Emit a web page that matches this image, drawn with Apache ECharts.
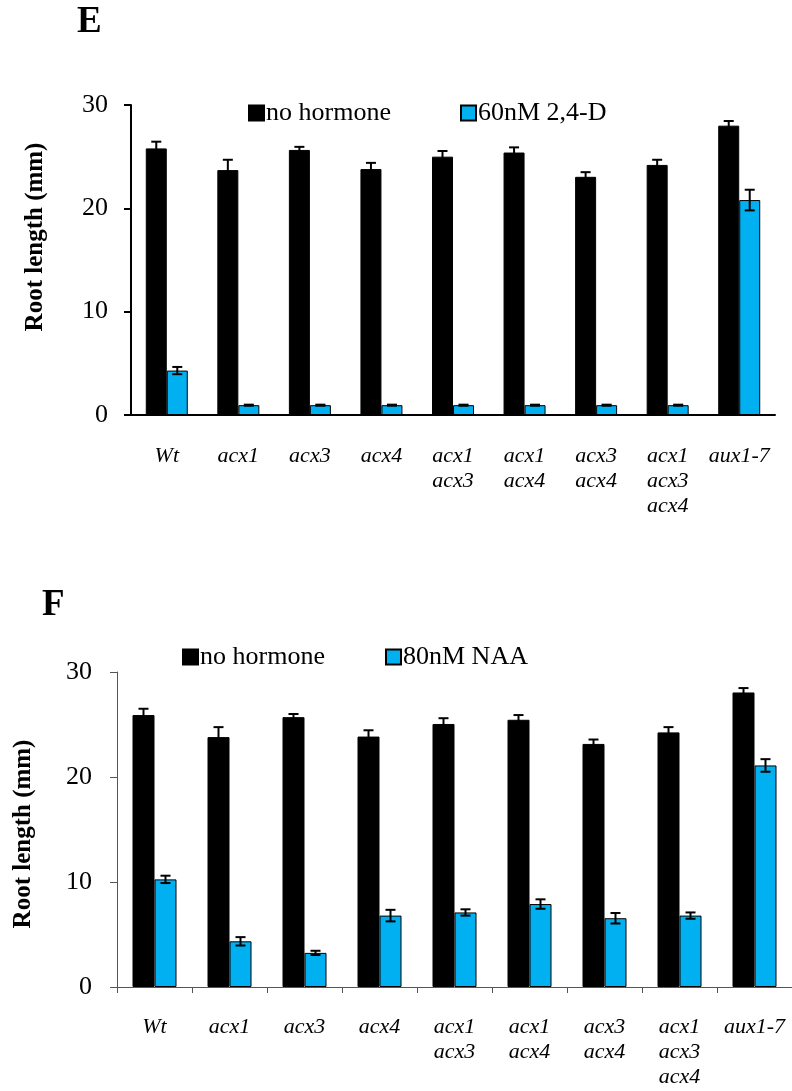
<!DOCTYPE html>
<html>
<head>
<meta charset="utf-8">
<script src="https://cdn.jsdelivr.net/npm/echarts@6/dist/echarts.min.js"></script>
<style>
    html, body { margin: 0; padding: 0; background: #fff; }
    #chart { width: 792px; height: 1091px; }
</style>
</head>
<body>
<div id="chart"></div>
<script>
// Genotypes on the x axis (same for both panels)
var categories = ["Wt", "acx1", "acx3", "acx4", "acx1\nacx3", "acx1\nacx4", "acx3\nacx4", "acx1\nacx3\nacx4", "aux1-7"];
var yTicks = [0, 10, 20, 30];

// Panel E: no hormone vs 60nM 2,4-D
var eControl = [25.8, 23.7, 25.65, 23.8, 25.0, 25.4, 23.05, 24.2, 28.0];
var eControlErr = [0.65, 1.0, 0.3, 0.6, 0.55, 0.5, 0.45, 0.5, 0.45];
var eTreated = [4.3, 0.95, 0.95, 0.95, 0.95, 0.95, 0.95, 0.95, 20.8];
var eTreatedErr = [0.35, 0.05, 0.05, 0.05, 0.05, 0.05, 0.05, 0.05, 1.0];

// Panel F: no hormone vs 80nM NAA
var fControl = [25.9, 23.8, 25.7, 23.85, 25.05, 25.45, 23.15, 24.25, 28.05];
var fControlErr = [0.6, 0.95, 0.3, 0.6, 0.55, 0.45, 0.42, 0.5, 0.42];
var fTreated = [10.25, 4.35, 3.25, 6.8, 7.1, 7.9, 6.55, 6.8, 21.1];
var fTreatedErr = [0.35, 0.4, 0.2, 0.55, 0.3, 0.45, 0.5, 0.3, 0.6];

var FONT = "Liberation Serif";
var BLUE = "#00B0F0";
var barW = [21, 22];

/**
 * Error bar series drawn on top of one bar series.
 */
function errorSeries(axisIdx, values, errs, side) {
    var data = values.map(function (v, i) { return [i, v, errs[i]]; });
    return {
        type: "custom",
        xAxisIndex: axisIdx,
        yAxisIndex: axisIdx,
        z: 10,
        silent: true,
        data: data,
        renderItem: function (params, api) {
            var i = api.value(0), v = api.value(1), e = api.value(2);
            var top = api.coord([i, v + e]);
            var bot = api.coord([i, v - e]);
            var x = top[0] + side * barW[axisIdx] / 2;
            var cap = 5;
            var st = { stroke: "#000", lineWidth: 2 };
            return {
                type: "group",
                children: [
                    { type: "line", shape: { x1: x, y1: top[1], x2: x, y2: bot[1] }, style: st },
                    { type: "line", shape: { x1: x - cap, y1: top[1], x2: x + cap, y2: top[1] }, style: st },
                    { type: "line", shape: { x1: x - cap, y1: bot[1], x2: x + cap, y2: bot[1] }, style: st }
                ]
            };
        }
    };
}

function barSeries(axisIdx, name, values, color) {
    return {
        type: "bar",
        name: name,
        xAxisIndex: axisIdx,
        yAxisIndex: axisIdx,
        data: values,
        barWidth: barW[axisIdx],
        barGap: "0%",
        itemStyle: { color: color, borderColor: "#000", borderWidth: 1 }
    };
}

function legendItem(name, left, top) {
    return {
        data: [name],
        left: left,
        top: top,
        icon: "rect",
        itemWidth: 15,
        itemHeight: 15,
        itemGap: 0,
        selectedMode: false,
        textStyle: { fontFamily: FONT, fontSize: 26, color: "#000", padding: [0, 0, 0, -3] }
    };
}

var chart = echarts.init(document.getElementById("chart"), null, { renderer: "canvas" });

var options = {
    animation: false,
    backgroundColor: "#fff",
    grid: [
        { left: 131, top: 105, width: 644, height: 310 },
        { left: 117, top: 672, width: 679, height: 315 }
    ],
    legend: [
        legendItem("no hormone", 243, 95),
        legendItem("60nM 2,4-D", 455, 95),
        legendItem("no hormone", 177, 639),
        legendItem("80nM NAA", 380, 639)
    ],
    xAxis: [
        {
            gridIndex: 0,
            type: "category",
            data: categories,
            axisLine: { lineStyle: { color: "#000", width: 2 } },
            axisTick: { show: false },
            axisLabel: { fontFamily: FONT, fontSize: 22, fontStyle: "italic", color: "#000", lineHeight: 25, margin: 29, interval: 0 }
        },
        {
            gridIndex: 1,
            type: "category",
            data: categories,
            axisLine: { lineStyle: { color: "#555", width: 1 } },
            axisTick: { show: true, length: 6, lineStyle: { color: "#555", width: 1 } },
            axisLabel: { fontFamily: FONT, fontSize: 22, fontStyle: "italic", color: "#000", lineHeight: 25, margin: 28, interval: 0 }
        }
    ],
    yAxis: [
        {
            gridIndex: 0,
            type: "value",
            min: yTicks[0],
            max: yTicks[yTicks.length - 1],
            interval: 10,
            splitLine: { show: false },
            axisLine: { show: true, lineStyle: { color: "#000", width: 2 } },
            axisTick: { show: true, length: 7, lineStyle: { color: "#000", width: 2 } },
            axisLabel: { fontFamily: FONT, fontSize: 26, color: "#000", margin: 23 }
        },
        {
            gridIndex: 1,
            type: "value",
            min: yTicks[0],
            max: yTicks[yTicks.length - 1],
            interval: 10,
            splitLine: { show: false },
            axisLine: { show: true, lineStyle: { color: "#555", width: 1 } },
            axisTick: { show: true, length: 7, lineStyle: { color: "#555", width: 1 } },
            axisLabel: { fontFamily: FONT, fontSize: 26, color: "#000", margin: 25 }
        }
    ],
    graphic: [
        { type: "text", left: 77, top: 4, style: { text: "E", font: "bold 37px " + FONT, fill: "#000" } },
        { type: "text", left: 42, top: 587, style: { text: "F", font: "bold 37px " + FONT, fill: "#000" } },
        {
            type: "text", x: 36, y: 237, rotation: Math.PI / 2,
            style: { text: "Root length (mm)", font: "bold 25px " + FONT, fill: "#000", textAlign: "center", textVerticalAlign: "middle" }
        },
        {
            type: "text", x: 24, y: 834, rotation: Math.PI / 2,
            style: { text: "Root length (mm)", font: "bold 25px " + FONT, fill: "#000", textAlign: "center", textVerticalAlign: "middle" }
        }
    ],
    series: [
        barSeries(0, "no hormone", eControl, "#000"),
        barSeries(0, "60nM 2,4-D", eTreated, BLUE),
        errorSeries(0, eControl, eControlErr, -1),
        errorSeries(0, eTreated, eTreatedErr, 1),
        barSeries(1, "no hormone", fControl, "#000"),
        barSeries(1, "80nM NAA", fTreated, BLUE),
        errorSeries(1, fControl, fControlErr, -1),
        errorSeries(1, fTreated, fTreatedErr, 1)
    ]
};

chart.setOption(options);
</script>
</body>
</html>
